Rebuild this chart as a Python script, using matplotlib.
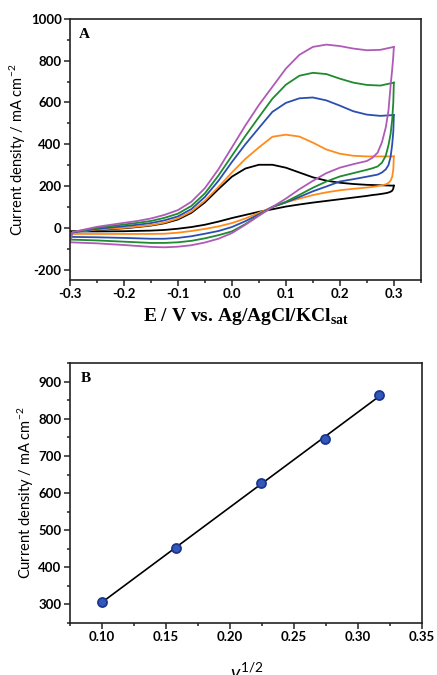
import numpy as np
import matplotlib
matplotlib.use("Agg")
import matplotlib.pyplot as plt
from matplotlib.ticker import MultipleLocator

plt.rcParams["mathtext.fontset"] = "custom"
plt.rcParams["mathtext.rm"] = "Lato"
plt.rcParams["mathtext.it"] = "Lato:italic"
plt.rcParams["mathtext.bf"] = "Liberation Serif:bold"
plt.rcParams["axes.unicode_minus"] = False

# ---- Panel A: cyclic voltammograms (forward + reverse sweep) ----
E_fwd = [-0.3, -0.295, -0.25, -0.2, -0.175, -0.15, -0.125, -0.1, -0.075, -0.05,
         -0.025, 0.0, 0.025, 0.05, 0.075, 0.1, 0.125, 0.15, 0.175, 0.2,
         0.225, 0.25, 0.275, 0.3]
E_rev = [0.3, 0.299, 0.297, 0.294, 0.29, 0.285, 0.278, 0.27, 0.26, 0.25,
         0.225, 0.2, 0.175, 0.15, 0.125, 0.1, 0.075, 0.05, 0.025, 0.0,
         -0.025, -0.05, -0.075, -0.1, -0.125, -0.15, -0.2, -0.25, -0.3]

black_fwd = [-17, -17, -10, -2, 4, 11, 22, 40, 72, 122,
             185, 245, 284, 302, 302, 288, 265, 242, 226, 216,
             210, 206, 204, 202]
black_rev = [202, 188, 178, 173, 169, 166, 163, 160, 157, 153,
             145, 137, 129, 121, 112, 102, 89, 77, 62, 47,
             30, 15, 4, -4, -10, -13, -16, -17, -17]

orange_fwd = [-29, -22, -8, 0, 6, 13, 25, 45, 78, 130,
              195, 265, 330, 385, 436, 446, 437, 408, 375, 355,
              345, 342, 342, 342]
orange_rev = [342, 280, 245, 226, 215, 208, 204, 200, 196, 193,
              187, 180, 170, 157, 140, 122, 100, 72, 45, 23,
              7, -5, -15, -23, -28, -29, -29, -29, -29]

blue_fwd = [-43, -22, -5, 8, 15, 23, 36, 55, 90, 148,
            225, 315, 400, 478, 555, 598, 620, 624, 610, 585,
            558, 542, 536, 540]
blue_rev = [540, 460, 400, 340, 300, 280, 265, 255, 250, 245,
            233, 222, 198, 175, 148, 122, 100, 65, 32, 4,
            -15, -28, -40, -48, -52, -52, -48, -45, -43]

green_fwd = [-56, -20, 0, 16, 24, 33, 48, 68, 105, 165,
             250, 345, 440, 530, 618, 685, 728, 742, 736, 714,
             695, 684, 681, 695]
green_rev = [695, 600, 520, 450, 395, 345, 312, 294, 285, 278,
             262, 246, 222, 192, 158, 125, 100, 60, 18, -17,
             -35, -50, -62, -69, -72, -72, -66, -60, -56]

purple_fwd = [-69, -20, 5, 24, 33, 45, 62, 85, 125, 190,
              280, 385, 490, 588, 675, 762, 828, 866, 877, 870,
              858, 850, 852, 866]
purple_rev = [866, 820, 760, 680, 560, 480, 410, 360, 335, 320,
              305, 288, 262, 225, 185, 140, 100, 58, 15, -25,
              -52, -70, -83, -90, -93, -91, -82, -74, -69]

# ---- Panel B: peak current vs square root of scan rate ----
sqrt_v = [0.100, 0.158, 0.224, 0.274, 0.316]
j_peak = [307, 452, 628, 745, 863]

curves = [
    (black_fwd, black_rev, "black"),
    (orange_fwd, orange_rev, "#ff8c1a"),
    (blue_fwd, blue_rev, "#2a4fb0"),
    (green_fwd, green_rev, "#1f8a2e"),
    (purple_fwd, purple_rev, "#b05ab8"),
]

serif = "Liberation Serif"

fig = plt.figure(figsize=(4.37, 6.75), dpi=100)
axA = fig.add_axes([0.160, 0.585, 0.803, 0.387])
axB = fig.add_axes([0.160, 0.077, 0.806, 0.385])

for fwd, rev, col in curves:
    axA.plot(E_fwd, fwd, color=col, lw=1.3)
    axA.plot(E_rev, rev, color=col, lw=1.3)

axA.set_xlim(-0.3, 0.35)
axA.set_ylim(-250, 1000)
axA.xaxis.set_minor_locator(MultipleLocator(0.05))
axA.yaxis.set_minor_locator(MultipleLocator(100))
axA.set_xticks([-0.3, -0.2, -0.1, 0.0, 0.1, 0.2, 0.3])
axA.set_xticklabels(["-0.3", "-0.2", "-0.1", "0.0", "0.1", "0.2", "0.3"])
axA.set_yticks([-200, 0, 200, 400, 600, 800, 1000])
axA.text(0.025, 0.965, "A", transform=axA.transAxes, ha="left", va="top",
         fontfamily=serif, fontweight="bold", fontsize=11)
axA.set_xlabel("E / V vs. Ag/AgCl/KCl$_{\\mathbf{sat}}$", fontfamily=serif,
               fontweight="bold", fontsize=14, labelpad=4)
axA.set_ylabel("Current density / mA cm$^{-2}$", fontfamily="Lato", fontsize=10.5,
               labelpad=2)

axB.plot(sqrt_v, j_peak, "o", color="#3358b8", ms=6.5, mec="#1a3590", mew=1.3, zorder=3)
k, b = np.polyfit(sqrt_v, j_peak, 1)
xs = np.array([sqrt_v[0], sqrt_v[-1]])
axB.plot(xs, k * xs + b, color="black", lw=1.2, zorder=2)
axB.set_xlim(0.075, 0.35)
axB.set_ylim(250, 950)
axB.xaxis.set_minor_locator(MultipleLocator(0.025))
axB.yaxis.set_minor_locator(MultipleLocator(50))
axB.set_xticks([0.10, 0.15, 0.20, 0.25, 0.30, 0.35])
axB.set_xticklabels(["0.10", "0.15", "0.20", "0.25", "0.30", "0.35"])
axB.set_yticks([300, 400, 500, 600, 700, 800, 900])
axB.text(0.03, 0.965, "B", transform=axB.transAxes, ha="left", va="top",
         fontfamily=serif, fontweight="bold", fontsize=11)
axB.set_ylabel("Current density / mA cm$^{-2}$", fontfamily="Lato", fontsize=10.5,
               labelpad=2)
fig.text(0.565, -0.012, "$v^{1/2}$", ha="center", va="bottom", fontsize=14,
         fontfamily="Lato", fontweight="bold")

for ax in (axA, axB):
    for sp in ax.spines.values():
        sp.set_linewidth(1.2)
        sp.set_color("#222222")
    ax.tick_params(which="both", direction="out", top=False, right=False,
                   width=1.1, color="#222222")
    ax.tick_params(which="major", length=4, pad=2)
    ax.tick_params(which="minor", length=2.5)
    for lab in ax.get_xticklabels() + ax.get_yticklabels():
        lab.set_fontfamily("Lato")
        lab.set_fontweight("bold")
        lab.set_fontsize(9.5)

fig.savefig("out.png", dpi=100)
